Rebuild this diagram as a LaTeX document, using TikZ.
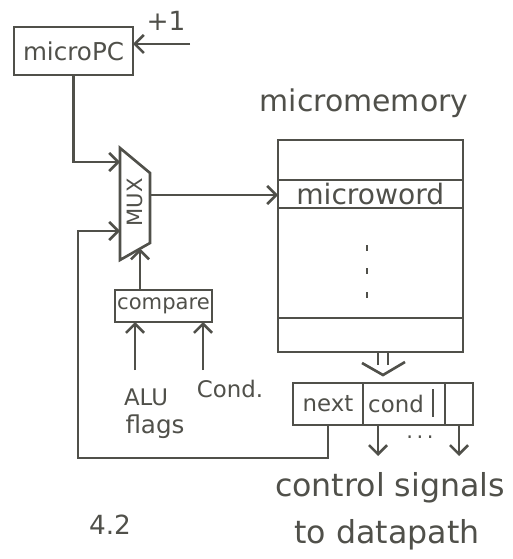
\documentclass[tikz,border=0pt]{standalone}
\usepackage{fontspec}
\setmainfont{DejaVu Sans}
\usetikzlibrary{calc, positioning}
\usetikzlibrary{arrows.meta}
\definecolor{pencil}{RGB}{80,80,74}
\tikzset{
  hand/.style={font=\fontsize{#1}{#1}\selectfont, inner sep=0pt},
  box/.style={draw=pencil, line width=1.5pt, outer sep=0pt},
  wire/.style={draw=pencil, line width=1.5pt, -{Straight Barb[length=1.8mm, width=3.6mm]}},
}

\begin{document}
\begin{tikzpicture}[line width=1.5pt, pencil]
\useasboundingbox (0,0) rectangle (10.24,-11.18);

\node[box, hand=14, minimum width=2.38cm, minimum height=0.96cm] (upc) at (1.47,-1.02) {microPC};
\node[hand=15] (plus) at (3.32,-0.42) {+1};
\coordinate (inc) at (3.8,-0.88);
\draw[wire] (inc) -- (upc.east |- inc);

\coordinate (m1) at (2.4,-2.96);
\coordinate (m2) at (3.0,-3.46);
\coordinate (m3) at (3.0,-4.86);
\coordinate (m4) at (2.4,-5.2);
\draw (m1) -- (m2) -- (m3) -- (m4) -- cycle;
\node[hand=12, rotate=90] (mux) at (2.7,-4.05) {MUX};
\coordinate (inA) at (2.4,-3.24);
\coordinate (inB) at (2.4,-4.62);
\coordinate (sel) at (2.8,-4.97);
\coordinate (out) at (3.0,-3.9);

\draw[wire] (upc.south) |- (inA);

\node[hand=17] (title) at (7.28,-2.06) {micromemory};
\node[box, minimum width=3.7cm, minimum height=4.24cm] (mem) at (7.41,-4.92) {};
\foreach \y in {-3.6,-4.16,-6.36}
  \draw (mem.west |- 0,\y) -- (mem.east |- 0,\y);
\node[hand=16, anchor=west] (word) at (5.9,-3.88) {microword};
\foreach \y in {-4.9,-5.36,-5.84}
  \draw (7.34,\y) -- ++(0,-0.12);
\draw[wire] (out) -- (mem.west |- out);

\node[box, minimum width=1.94cm, minimum height=0.64cm, hand=12] (cmp) at (3.27,-6.12) {compare};
\draw[wire] (cmp.north -| sel) -- (sel);
\coordinate (aluIn) at (2.7,-7.4);
\coordinate (cndIn) at (4.06,-7.4);
\draw[wire] (aluIn) -- (cmp.south -| aluIn);
\draw[wire] (cndIn) -- (cmp.south -| cndIn);
\node[hand=13] (alu) at (2.92,-7.94) {ALU};
\node[hand=13] (cnd) at (4.6,-7.78) {Cond.};
\node[hand=14] (flg) at (3.1,-8.54) {flags};

\node[box, hand=13, minimum width=1.4cm, minimum height=0.84cm] (next) at (6.56,-8.08) {next};
\node[box, minimum width=1.64cm, minimum height=0.84cm, right=0pt of next] (cond) {};
\node[box, minimum width=0.56cm, minimum height=0.84cm, right=0pt of cond] (last) {};
\node[hand=13] (condtxt) at ($(cond.center)+(-0.16,0)$) {cond};
\draw ($(cond.east)+(-0.24,0.3)$) -- ++(0,-0.56);

\coordinate (bus) at ($(mem.south)+(0.25,0)$);
\draw ($(bus)+(-0.1,0)$) -- ++(0,-0.26) ($(bus)+(0.1,0)$) -- ++(0,-0.26);
\draw ($(bus)+(-0.42,-0.22)$) -- ($(bus)+(0,-0.46)$) -- ($(bus)+(0.44,-0.2)$);

\coordinate (sigA) at ($(cond.south)+(-0.52,0)$);
\draw[wire] (sigA) -- ++(0,-0.62);
\draw[wire] (last.south) -- ++(0,-0.62);
\node[hand=12] (dots) at (8.4,-8.74) {.\,.\,.};

\coordinate (loop) at (1.56,-9.16);
\draw[wire] (next.south) |- (loop) |- (inB);

\node[hand=18] (ctl) at (7.8,-9.76) {control signals};
\node[hand=18] (dp) at (7.74,-10.7) {to datapath};
\node[hand=15] (fig) at (2.2,-10.5) {4.2};
\end{tikzpicture}
\end{document}
